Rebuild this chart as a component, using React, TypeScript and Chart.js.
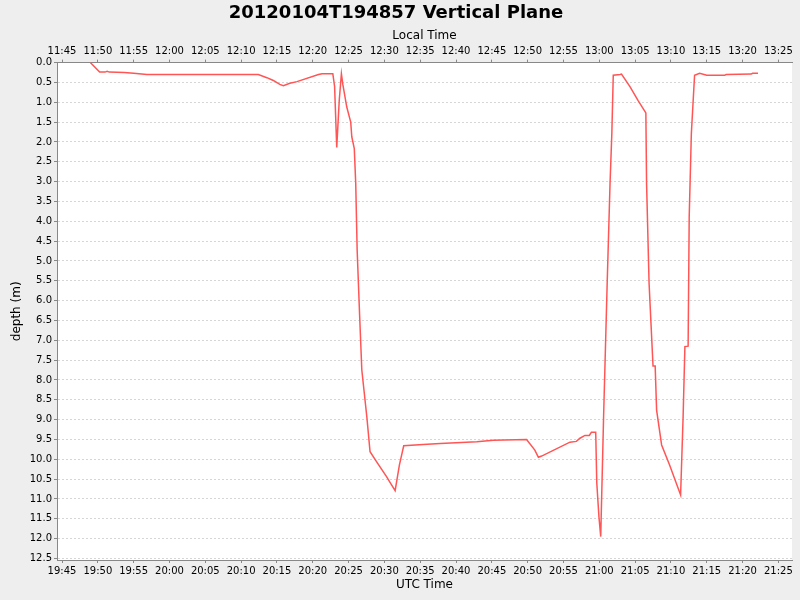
import { useEffect, useRef } from "react";
import { Chart, registerables } from "chart.js";

Chart.register(...registerables);

const chartTitle = "20120104T194857 Vertical Plane";
const bottomAxisTitle = "UTC Time";
const topAxisTitle = "Local Time";
const depthAxisTitle = "depth (m)";
const localOffsetHours = -8;

// samples (UTC clock time, depth in metres)
const utcTimes = [
  "19:48:57", "19:50:15", "19:51:00", "19:51:18", "19:51:36", "19:53:42", "19:55:00", "19:56:51",
  "20:12:24", "20:13:36", "20:14:30", "20:15:24", "20:15:54", "20:16:48", "20:17:48", "20:20:48",
  "20:21:18", "20:22:48", "20:23:03", "20:23:21", "20:23:42", "20:24:00", "20:24:12", "20:24:45",
  "20:25:18", "20:25:27", "20:25:48", "20:26:00", "20:26:12", "20:26:33", "20:26:51", "20:27:33",
  "20:28:00", "20:28:54", "20:30:18", "20:30:51", "20:31:30", "20:32:06", "20:32:42", "20:35:24",
  "20:37:48", "20:42:54", "20:45:12", "20:49:51", "20:51:00", "20:51:30", "20:51:57", "20:55:54",
  "20:56:48", "20:57:18", "20:58:00", "20:58:36", "20:58:54", "20:59:30", "20:59:39", "20:59:57",
  "21:00:12", "21:00:36", "21:01:06", "21:01:30", "21:01:45", "21:01:57", "21:02:54", "21:03:06",
  "21:04:18", "21:05:24", "21:06:30", "21:06:36", "21:06:57", "21:07:30", "21:07:48", "21:08:00",
  "21:08:42", "21:09:48", "21:11:21", "21:11:42", "21:11:57", "21:12:24", "21:12:33", "21:12:51",
  "21:13:18", "21:14:00", "21:15:00", "21:17:30", "21:17:42", "21:21:12", "21:21:24", "21:22:09",
];

const depths = [
  0.0, 0.24, 0.24, 0.22, 0.24, 0.25, 0.27, 0.3,
  0.3, 0.38, 0.45, 0.55, 0.58, 0.52, 0.48, 0.3,
  0.28, 0.28, 0.6, 2.14, 0.95, 0.28, 0.55, 1.12,
  1.5, 1.87, 2.17, 3.05, 4.73, 6.4, 7.75, 8.93,
  9.81, 10.06, 10.44, 10.6, 10.79, 10.14, 9.66, 9.63,
  9.6, 9.56, 9.52, 9.5, 9.77, 9.95, 9.92, 9.57,
  9.55, 9.47, 9.4, 9.4, 9.32, 9.32, 10.6, 11.45,
  11.95, 8.93, 5.57, 3.05, 1.79, 0.32, 0.3, 0.29,
  0.61, 0.95, 1.27, 3.05, 5.57, 7.65, 7.65, 8.76,
  9.64, 10.14, 10.9, 8.93, 7.16, 7.15, 3.89, 1.79,
  0.32, 0.27, 0.32, 0.32, 0.3, 0.29, 0.27, 0.27,
];

// axis range (UTC clock) and depth range
const timeRange = ["19:44:18", "21:26:54"];
const depthRange = [0, 12.54];

const toMinutes = (s: string) => {
  const [h, m, sec] = s.split(":").map(Number);
  return h * 60 + m + sec / 60;
};

const clock = (v: number) => {
  const m = ((Math.round(v) % 1440) + 1440) % 1440;
  return `${String(Math.floor(m / 60)).padStart(2, "0")}:${String(m % 60).padStart(2, "0")}`;
};

const FONT = "'DejaVu Sans', sans-serif";
const AXIS_GREY = "#888888";

const backgroundPlugin = {
  id: "background",
  beforeDraw(chart: any) {
    const { ctx, chartArea: a, width, height } = chart;
    ctx.save();
    ctx.fillStyle = "#eeeeee";
    ctx.fillRect(0, 0, width, height);
    ctx.fillStyle = "#ffffff";
    ctx.fillRect(a.left, a.top, a.right - a.left, a.bottom - a.top);
    ctx.restore();
  },
};

export default function App() {
  const canvasRef = useRef<HTMLCanvasElement>(null);

  useEffect(() => {
    if (!canvasRef.current) return;
    const ctx = canvasRef.current.getContext("2d");
    if (!ctx) return;

    const xMin = toMinutes(timeRange[0]);
    const xMax = toMinutes(timeRange[1]);

    const timeTicks = (offset: number) => ({
      stepSize: 5,
      includeBounds: false,
      autoSkip: false,
      maxRotation: 0,
      padding: 2,
      color: "#000000",
      font: { family: FONT, size: 10 },
      callback: (v: any) => clock(Number(v) + offset),
    });

    const timeGrid = {
      drawOnChartArea: false,
      drawTicks: true,
      tickLength: 3,
      color: AXIS_GREY,
      tickColor: AXIS_GREY,
    };

    const chart = new Chart(ctx, {
      type: "line",
      data: {
        datasets: [
          {
            label: "depth",
            data: utcTimes.map((t, i) => ({ x: toMinutes(t), y: depths[i] })),
            borderColor: "#ff5555",
            borderWidth: 1.5,
            pointRadius: 0,
            tension: 0,
            fill: false,
            xAxisID: "x",
            yAxisID: "y",
          },
        ],
      },
      options: {
        animation: false,
        responsive: false,
        layout: { padding: { left: 0, top: 0, right: 8, bottom: 0 } },
        plugins: {
          legend: { display: false },
          tooltip: { enabled: false },
          title: {
            display: true,
            text: chartTitle,
            color: "#000000",
            font: { family: FONT, size: 18, weight: "bold" },
            padding: { top: 3, bottom: 2 },
          },
        },
        scales: {
          x: {
            type: "linear",
            position: "bottom",
            min: xMin,
            max: xMax,
            ticks: timeTicks(0),
            grid: timeGrid,
            border: { color: AXIS_GREY, width: 1 },
            title: {
              display: true,
              text: bottomAxisTitle,
              color: "#000000",
              font: { family: FONT, size: 12 },
              padding: { top: 0, bottom: 8 },
            },
            afterFit: (s: any) => {
              s.height = 40;
              s.paddingLeft = 0;
              s.paddingRight = 0;
            },
          },
          x2: {
            type: "linear",
            position: "top",
            min: xMin,
            max: xMax,
            ticks: timeTicks(localOffsetHours * 60),
            grid: timeGrid,
            border: { color: AXIS_GREY, width: 1 },
            title: {
              display: true,
              text: topAxisTitle,
              color: "#000000",
              font: { family: FONT, size: 12 },
              padding: { top: 2.5, bottom: 0 },
            },
            afterFit: (s: any) => {
              s.height = 36;
              s.paddingLeft = 0;
              s.paddingRight = 0;
            },
          },
          y: {
            type: "linear",
            position: "left",
            reverse: true,
            min: depthRange[0],
            max: depthRange[1],
            ticks: {
              stepSize: 0.5,
              includeBounds: false,
              autoSkip: false,
              padding: 2,
              color: "#000000",
              font: { family: FONT, size: 10 },
              callback: (v: any) => Number(v).toFixed(1),
            },
            grid: {
              color: "#d6d6d6",
              lineWidth: 1,
              tickLength: 3,
              tickColor: AXIS_GREY,
              tickBorderDash: [],
            },
            border: { color: AXIS_GREY, width: 1, dash: [2, 2] },
            title: {
              display: true,
              text: depthAxisTitle,
              color: "#000000",
              font: { family: FONT, size: 12 },
              padding: { top: 10, bottom: 0 },
            },
            afterFit: (s: any) => {
              s.width = 57;
              s.paddingTop = 0;
              s.paddingBottom = 0;
            },
          },
        },
      },
      plugins: [backgroundPlugin],
    } as any);

    return () => chart.destroy();
  }, []);

  return (
    <div style={{ position: "absolute", left: 0, top: 0, width: 800, height: 600 }}>
      <canvas ref={canvasRef} width={800} height={600} style={{ display: "block" }} />
    </div>
  );
}
